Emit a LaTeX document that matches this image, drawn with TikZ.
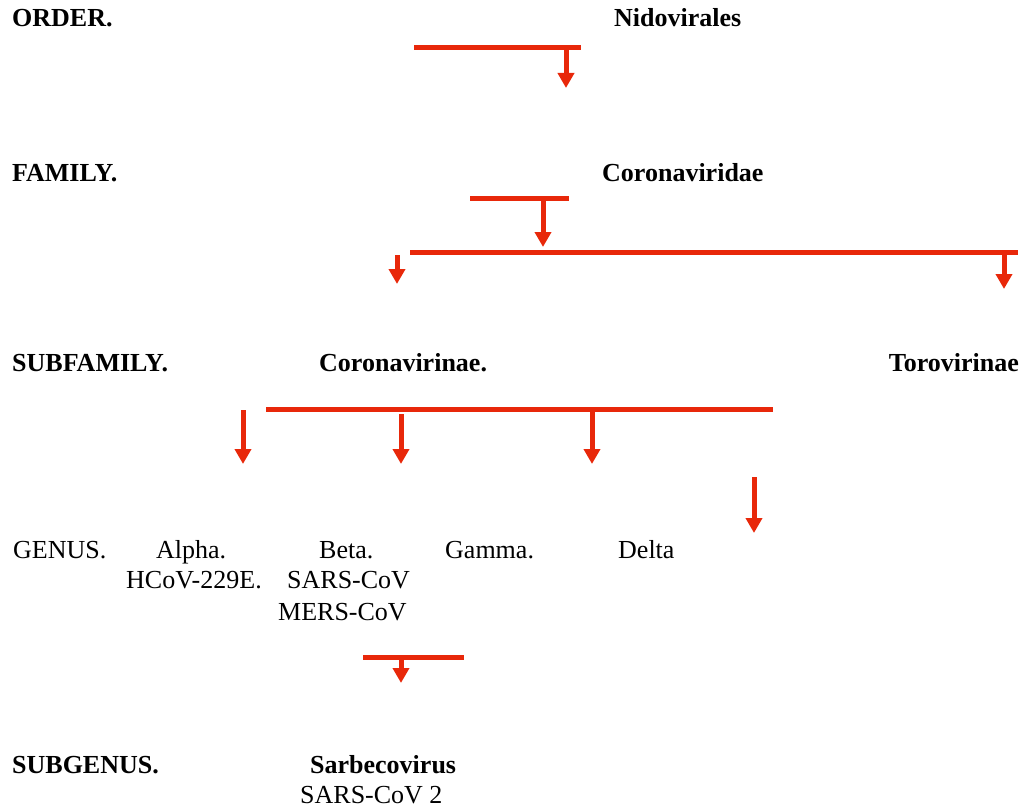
\documentclass[tikz,border=0pt]{standalone}
\usepackage{fontspec}
\setmainfont{Liberation Serif}
\usetikzlibrary{arrows.meta}
\definecolor{arrred}{RGB}{232,40,10}
\begin{document}
\begin{tikzpicture}[x=1pt,y=-1pt,
  lbl/.style={inner sep=0pt,anchor=base west,font=\fontsize{26}{30}\selectfont},
  blbl/.style={lbl,font=\fontsize{26}{30}\selectfont\bfseries},
  bar/.style={draw=arrred,line width=5pt},
  arr/.style={draw=arrred,line width=5pt,-{Triangle[width=16pt,length=15pt]}}]
\useasboundingbox (0,0) rectangle (1021,808);
% labels
\node[blbl] (ord) at (12,27) {ORDER.};
\node[blbl] (nido) at (614,27) {Nidovirales};
\node[blbl] (fam) at (12,181) {FAMILY.};
\node[blbl] (corvd) at (602,181) {Coronaviridae};
\node[blbl] (subfam) at (12,371) {SUBFAMILY.};
\node[blbl] (corvn) at (319,371) {Coronavirinae.};
\node[blbl,anchor=base east] (toro) at (1019,371) {Torovirinae};
\node[lbl] (genus) at (13,558) {GENUS.};
\node[lbl] (alpha) at (156,558) {Alpha.};
\node[lbl] (beta) at (319,558) {Beta.};
\node[lbl] (gamma) at (445,558) {Gamma.};
\node[lbl] (delta) at (618,558) {Delta};
\node[lbl] (hcov) at (126,588) {HCoV-229E.};
\node[lbl] (sars) at (287,588) {SARS-CoV};
\node[lbl] (mers) at (278,620) {MERS-CoV};
\node[blbl] (subgen) at (12,773) {SUBGENUS.};
\node[blbl] (sarbe) at (310,773) {Sarbecovirus};
\node[lbl] (sars2) at (300,803) {SARS-CoV 2};
% order -> family
\coordinate (b1l) at (414,48); \coordinate (b1r) at (581,48);
\coordinate (a1s) at (566,48); \coordinate (a1e) at (566,88);
\draw[bar] (b1l) -- (b1r);
\draw[arr] (a1s) -- (a1e);
% family -> subfamily
\coordinate (b2l) at (470,198); \coordinate (b2r) at (569,198);
\coordinate (a2s) at (543,198); \coordinate (a2e) at (543,247);
\draw[bar] (b2l) -- (b2r);
\draw[arr] (a2s) -- (a2e);
\coordinate (b3l) at (410,252); \coordinate (b3r) at (1018,252);
\draw[bar] (b3l) -- (b3r);
\coordinate (a3s) at (1004,252); \coordinate (a3e) at (1004,289);
\draw[arr] (a3s) -- (a3e);
\coordinate (a4s) at (397,255); \coordinate (a4e) at (397,284);
\draw[arr] (a4s) -- (a4e);
% subfamily -> genus
\coordinate (b4l) at (266,409); \coordinate (b4r) at (773,409);
\draw[bar] (b4l) -- (b4r);
\coordinate (a5s) at (243,410); \coordinate (a5e) at (243,464);
\draw[arr] (a5s) -- (a5e);
\coordinate (a6s) at (401,414); \coordinate (a6e) at (401,464);
\draw[arr] (a6s) -- (a6e);
\coordinate (a7s) at (592,409); \coordinate (a7e) at (592,464);
\draw[arr] (a7s) -- (a7e);
\coordinate (a8s) at (754,477); \coordinate (a8e) at (754,533);
\draw[arr] (a8s) -- (a8e);
% genus -> subgenus
\coordinate (b5l) at (363,657); \coordinate (b5r) at (464,657);
\draw[bar] (b5l) -- (b5r);
\coordinate (a9s) at (401,657); \coordinate (a9e) at (401,683);
\draw[arr] (a9s) -- (a9e);
\end{tikzpicture}
\end{document}
